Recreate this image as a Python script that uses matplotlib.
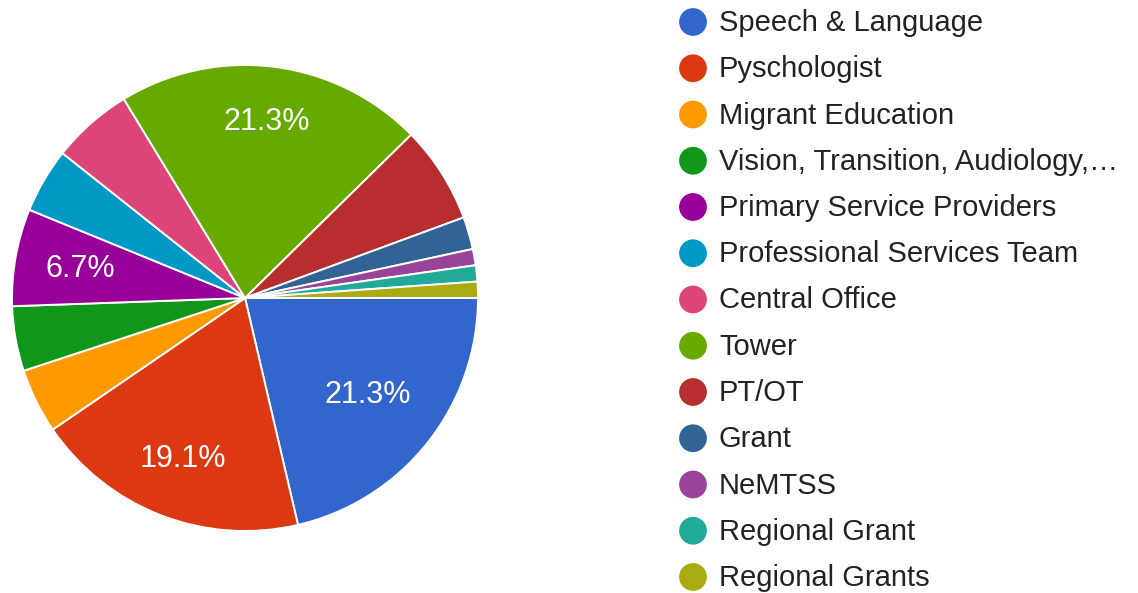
import matplotlib
matplotlib.use("Agg")
import matplotlib.pyplot as plt
import numpy as np

plt.rcParams["font.family"] = ["Liberation Sans", "DejaVu Sans"]

categories = [
    "Speech & Language", "Pyschologist", "Migrant Education",
    "Vision, Transition, Audiology,\u2026", "Primary Service Providers",
    "Professional Services Team", "Central Office", "Tower", "PT/OT",
    "Grant", "NeMTSS", "Regional Grant", "Regional Grants",
]
counts = [19, 17, 4, 4, 6, 4, 5, 19, 6, 2, 1, 1, 1]
colors = [
    "#3366cc", "#dc3912", "#ff9900", "#109618", "#990099", "#0099c6",
    "#dd4477", "#66aa00", "#b82e2e", "#316395", "#994499", "#22aa99",
    "#aaaa11",
]
# slices that carry a percentage label in the reference -> label radius
label_r = {"Speech & Language": 0.67, "Pyschologist": 0.74,
           "Primary Service Providers": 0.72, "Tower": 0.76}

W, H = 1138, 593
fig = plt.figure(figsize=(W / 100, H / 100), dpi=100)

# pie: centre (245, 298) px, radius 233 px
cx, cy, r = 245, 298, 233
ax = fig.add_axes([(cx - r) / W, (H - cy - r) / H, 2 * r / W, 2 * r / H])
total = sum(counts)
wedges, _ = ax.pie(
    counts, colors=colors, startangle=0, counterclock=False, radius=1,
    wedgeprops=dict(edgecolor="white", linewidth=1.4),
)
ax.set_xlim(-1, 1)
ax.set_ylim(-1, 1)
ax.set_aspect("equal")

for w, name, c in zip(wedges, categories, counts):
    if name not in label_r:
        continue
    mid = np.deg2rad((w.theta1 + w.theta2) / 2)
    rr = label_r[name]
    ax.text(rr * np.cos(mid), rr * np.sin(mid), f"{100 * c / total:.1f}%",
            color="white", fontsize=22, ha="center", va="center")

# legend drawn in pixel coordinates
lg = fig.add_axes([0, 0, 1, 1])
lg.set_xlim(0, W)
lg.set_ylim(H, 0)
lg.axis("off")
lg.patch.set_alpha(0)
for i, (name, col) in enumerate(zip(categories, colors)):
    y = 22 + i * 46.25
    lg.scatter([693], [y], s=400, color=col, edgecolors="none")
    lg.text(719, y + 1, name, fontsize=21, color="#222222", va="center", ha="left")

fig.savefig("out.png", dpi=100)
